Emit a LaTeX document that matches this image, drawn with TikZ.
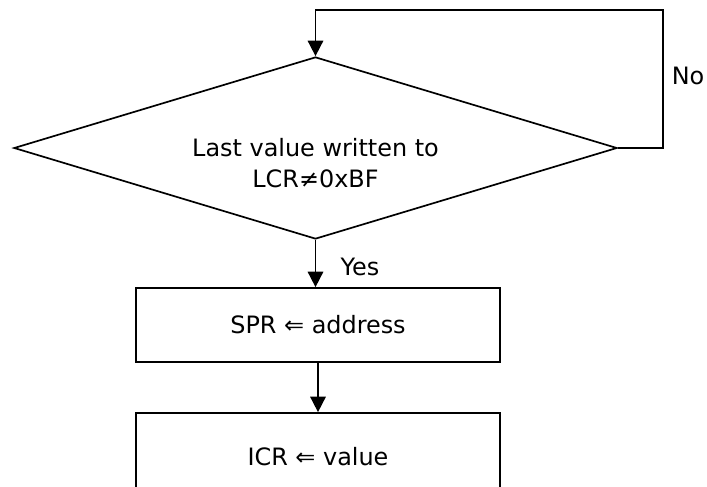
\documentclass[tikz,border=0pt]{standalone}
\usepackage{fontspec}
\setmainfont{DejaVu Sans}
\usetikzlibrary{arrows.meta,shapes.geometric}

\tikzset{
	flowline/.style={line width=1.2pt, -{Triangle[length=11pt,width=11pt]}},
	decision/.style={draw, line width=1.2pt, diamond, inner sep=0pt, minimum width=15.075cm, minimum height=4.55cm},
	stepbox/.style={draw, line width=1.2pt, rectangle, minimum width=9.1cm, minimum height=1.85cm},
	flowtext/.style={font=\fontsize{17}{21.5}\selectfont, align=center}
}

\begin{document}
\begin{tikzpicture}[x=0.025cm, y=-0.025cm]
			%%%%% START %%%%%
			
			\clip (0, 0) rectangle (707, 486);
			
			\node[decision] (cond) at (315.5, 148) {};
			\node[flowtext] (condtext) at (315.5, 163) {Last value written to\\LCR≠0xBF};
			
			\node[stepbox, flowtext] (spr) at (318, 325) {SPR ⇐ address};
			\node[stepbox, flowtext, minimum height=2.2cm] (icr) at (318, 457) {ICR ⇐ value};
			
			\coordinate (loopa) at (663, 148);
			\coordinate (loopb) at (663, 10);
			\coordinate (loopc) at (315.5, 10);
			
			\draw[flowline] (cond.east) -- (loopa) -- (loopb) -- (loopc) -- (cond.north);
			\node[flowtext] (no) at (688, 76) {No};
			
			\draw[flowline] (cond.south) -- (cond.south |- spr.north);
			\node[flowtext] (yes) at (360, 267) {Yes};
			
			\draw[flowline] (spr.south) -- (icr.north);
			
			%%%%% END %%%%%
		\end{tikzpicture}
\end{document}
